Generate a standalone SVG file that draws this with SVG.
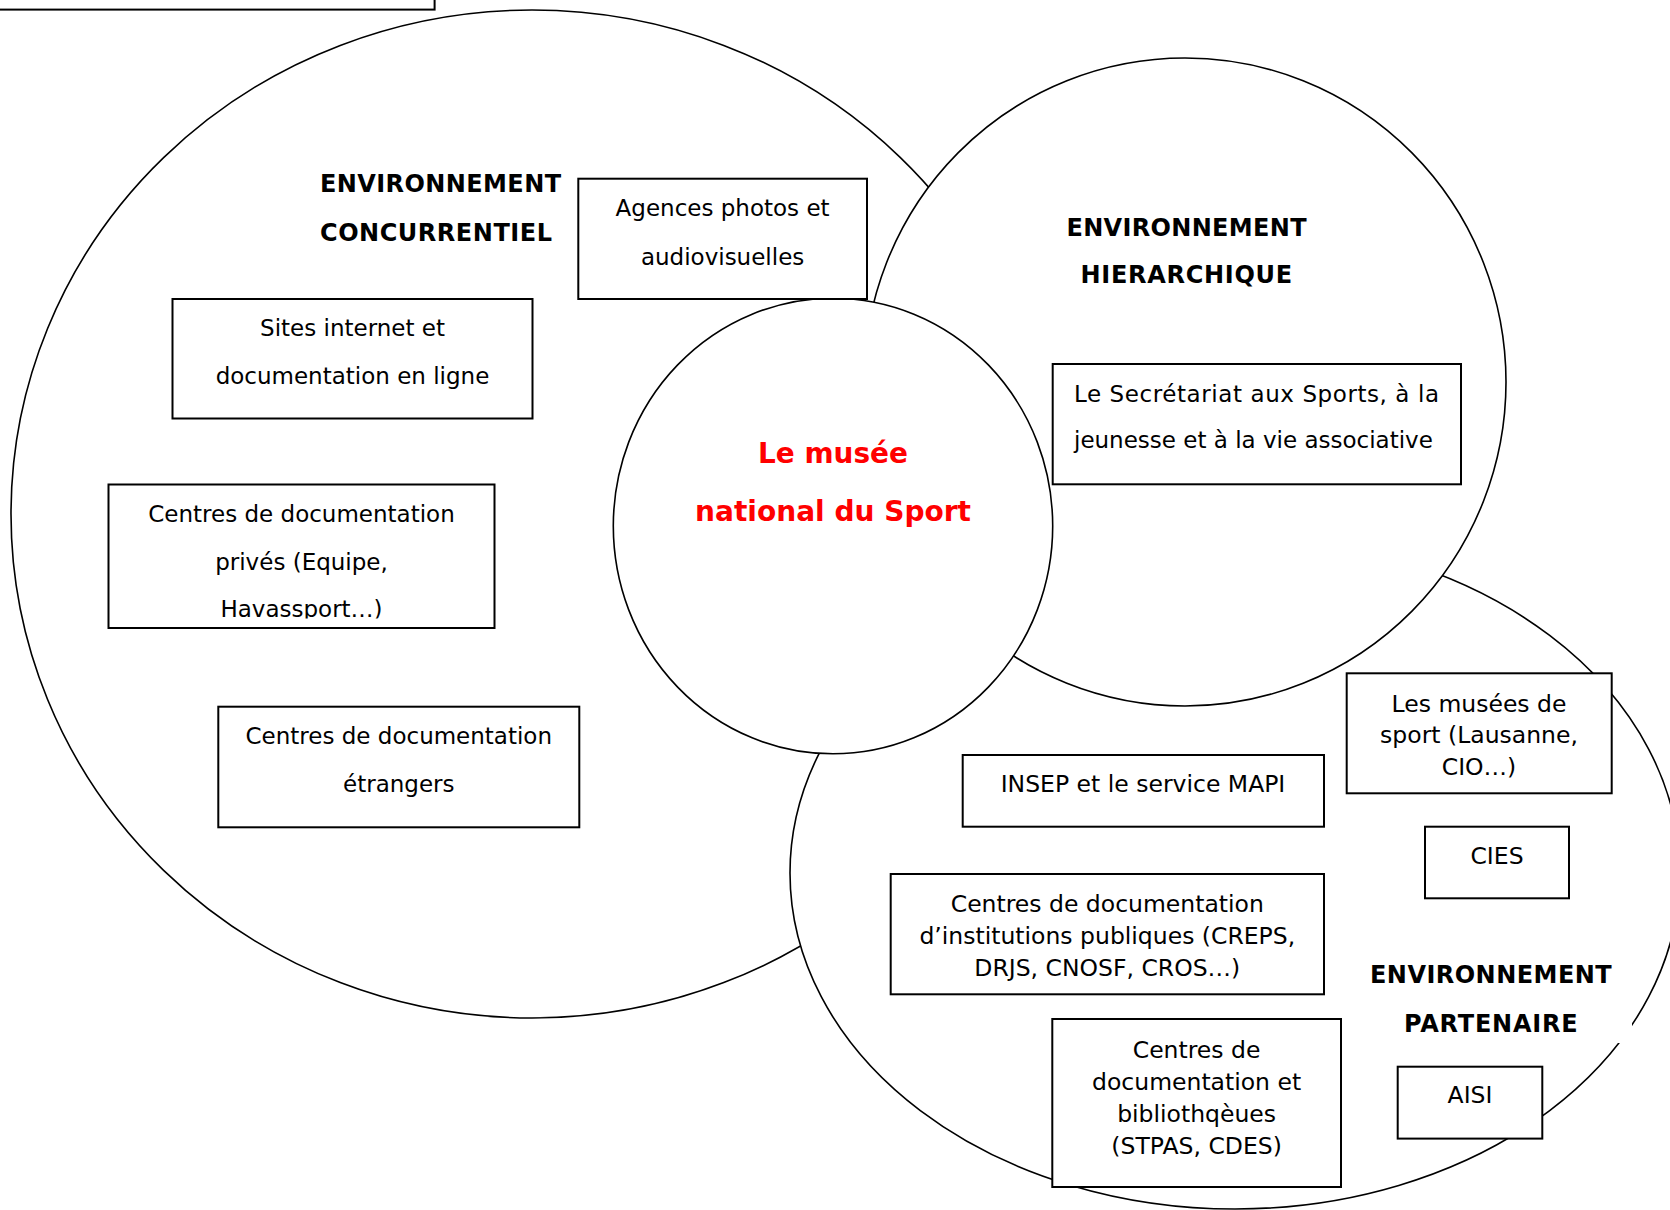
<svg xmlns="http://www.w3.org/2000/svg" width="1670" height="1210" viewBox="0 0 1670 1210">
<defs>
<style>
.shape{fill:#fff;stroke:#000;stroke-width:1.6}
.box{fill:#fff;stroke:#000;stroke-width:2}
.t{font-family:"DejaVu Sans",sans-serif;font-size:23px;fill:#000;text-anchor:middle}
.tp{font-family:"DejaVu Sans",sans-serif;font-size:23.5px;fill:#000;text-anchor:middle}
.h{font-family:"DejaVu Sans",sans-serif;font-size:24px;font-weight:bold;fill:#000}
.c{font-family:"DejaVu Sans",sans-serif;font-size:29px;font-weight:bold;fill:#ff0000;text-anchor:middle}
</style>
<clipPath id="clipPrives"><rect x="108.5" y="484.5" width="386" height="134"/></clipPath>
</defs>
<rect fill="#fff" x="0" y="0" width="1670" height="1210"/>

<g id="top-box"><rect class="box" x="-5" y="-20" width="439.6" height="29.6"/></g>

<g id="env-concurrentiel">
<ellipse class="shape" cx="532" cy="514" rx="521" ry="504"/>
</g>
<g id="env-partenaire">
<ellipse class="shape" cx="1235" cy="873" rx="445" ry="336"/>
</g>
<g id="env-hierarchique">
<ellipse class="shape" cx="1185" cy="382" rx="321" ry="324"/>
</g>
<g id="musee">
<ellipse class="shape" cx="833" cy="526" rx="219.7" ry="227.8"/>
<text class="c" x="833" y="462.7" textLength="150" lengthAdjust="spacingAndGlyphs">Le musée</text>
<text class="c" x="833" y="520.7" textLength="276" lengthAdjust="spacingAndGlyphs">national du Sport</text>
</g>

<g id="label-concurrentiel">
<text class="h" x="320" y="191.7" textLength="241" lengthAdjust="spacing">ENVIRONNEMENT</text>
<text class="h" x="320" y="240.5" textLength="232" lengthAdjust="spacing">CONCURRENTIEL</text>
</g>
<g id="label-hierarchique">
<text class="h" x="1066.5" y="236" textLength="240" lengthAdjust="spacing">ENVIRONNEMENT</text>
<text class="h" x="1080.5" y="283.3" textLength="211.6" lengthAdjust="spacing">HIERARCHIQUE</text>
</g>
<g id="label-partenaire">
<rect fill="#fff" x="1352" y="945" width="280" height="98"/>
<text class="h" x="1370" y="982.7" textLength="241.7" lengthAdjust="spacing">ENVIRONNEMENT</text>
<text class="h" x="1404" y="1031.7" textLength="173.7" lengthAdjust="spacing">PARTENAIRE</text>
</g>

<g id="agences">
<rect class="box" x="578.3" y="178.7" width="288.7" height="120.3"/>
<text class="t" x="722.6" y="215.7">Agences photos et</text>
<text class="t" x="722.6" y="264.5">audiovisuelles</text>
</g>
<g id="sites">
<rect class="box" x="172.5" y="299" width="360" height="119.5"/>
<text class="t" x="352.5" y="335.5">Sites internet et</text>
<text class="t" x="352.5" y="384">documentation en ligne</text>
</g>
<g id="prives">
<rect class="box" x="108.5" y="484.5" width="386" height="143.5"/>
<g clip-path="url(#clipPrives)">
<text class="t" x="301.5" y="522">Centres de documentation</text>
<text class="t" x="301.5" y="570">privés (Equipe,</text>
<text class="t" x="301.5" y="617">Havassport…)</text>
</g>
</g>
<g id="etrangers">
<rect class="box" x="218.3" y="706.7" width="361" height="120.6"/>
<text class="t" x="398.8" y="744">Centres de documentation</text>
<text class="t" x="398.8" y="792">étrangers</text>
</g>
<g id="secretariat">
<rect class="box" x="1052.7" y="364" width="408.3" height="120.3"/>
<text class="t" x="1074" y="401.7" style="text-anchor:start" textLength="365" lengthAdjust="spacing">Le Secrétariat aux Sports, à la</text>
<text class="t" x="1074" y="448" style="text-anchor:start">jeunesse et à la vie associative</text>
</g>
<g id="insep">
<rect class="box" x="962.7" y="755" width="361.3" height="71.7"/>
<text class="tp" x="1143" y="791.7">INSEP et le service MAPI</text>
</g>
<g id="musees">
<rect class="box" x="1346.7" y="673.3" width="265" height="120"/>
<text class="tp" x="1479" y="711.7">Les musées de</text>
<text class="tp" x="1479" y="743">sport (Lausanne,</text>
<text class="tp" x="1479" y="775">CIO…)</text>
</g>
<g id="cies">
<rect class="box" x="1425" y="826.7" width="144" height="71.6"/>
<text class="tp" x="1497" y="864">CIES</text>
</g>
<g id="publiques">
<rect class="box" x="890.7" y="874" width="433.3" height="120.3"/>
<text class="tp" x="1107.3" y="911.7">Centres de documentation</text>
<text class="tp" x="1107.3" y="943.5">d’institutions publiques (CREPS,</text>
<text class="tp" x="1107.3" y="976">DRJS, CNOSF, CROS…)</text>
</g>
<g id="bibliotheques">
<rect class="box" x="1052.3" y="1019" width="288.7" height="168"/>
<text class="tp" x="1196.6" y="1058">Centres de</text>
<text class="tp" x="1196.6" y="1090">documentation et</text>
<text class="tp" x="1196.6" y="1122">bibliothqèues</text>
<text class="tp" x="1196.6" y="1154">(STPAS, CDES)</text>
</g>
<g id="aisi">
<rect class="box" x="1397.7" y="1066.7" width="144.6" height="71.9"/>
<text class="tp" x="1470" y="1103.3">AISI</text>
</g>

<g id="connectors"></g>
</svg>
